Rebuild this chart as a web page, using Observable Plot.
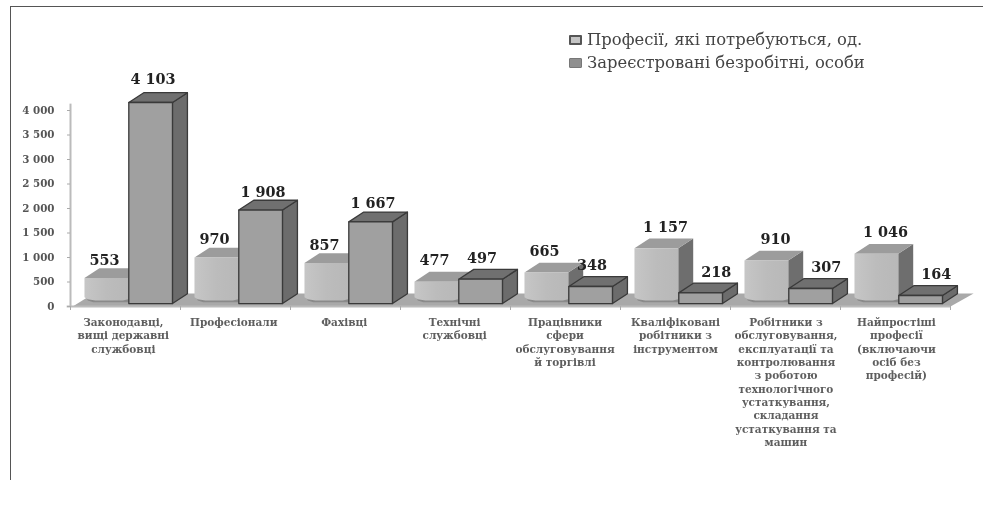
<!DOCTYPE html>
<html lang="uk">
<head>
<meta charset="utf-8">
<script src="https://cdn.jsdelivr.net/npm/d3@7"></script>
<script src="https://cdn.jsdelivr.net/npm/@observablehq/plot@0.6"></script>
<style>
html,body{margin:0;padding:0;background:#fff;width:983px;height:506px;overflow:hidden}
#wrap{position:relative;width:983px;height:506px;filter:blur(.55px)}
#frame{position:absolute;left:10px;top:6px;right:0;height:474px;border-left:1.5px solid #555;border-top:1.5px solid #555;box-sizing:border-box}
#legend{position:absolute;left:569px;top:28px;font:16.4px/23px "DejaVu Serif",serif;color:#444;white-space:nowrap}
#legend div{display:flex;align-items:center;gap:5px}
#legend i{display:inline-block;width:13px;height:10px;box-sizing:border-box;border-radius:1px}
#chart svg{display:block;position:absolute;left:0;top:0;background:transparent}
</style>
</head>
<body>
<div id="wrap">
  <div id="frame"></div>
  <div id="chart"></div>
  <div id="legend">
    <div><i style="background:#c4c4c4;border:2px solid #555"></i><span>Професії, які потребуються, од.</span></div>
    <div><i style="background:#8f8f8f;border:1px solid #777"></i><span>Зареєстровані безробітні, особи</span></div>
  </div>
</div>
<script>
const categories = [
  "Законодавці,\nвищі державні\nслужбовці",
  "Професіонали",
  "Фахівці",
  "Технічні\nслужбовці",
  "Працівники\nсфери\nобслуговування\nй торгівлі",
  "Кваліфіковані\nробітники з\nінструментом",
  "Робітники з\nобслуговування,\nексплуатації та\nконтролювання\nз роботою\nтехнологічного\nустаткування,\nскладання\nустаткування та\nмашин",
  "Найпростіші\nпрофесії\n(включаючи\nосіб без\nпрофесій)"
];
const required = [553, 970, 857, 477, 665, 1157, 910, 1046];
const registered = [4103, 1908, 1667, 497, 348, 218, 307, 164];
const seriesNames = ["Професії, які потребуються, од.", "Зареєстровані безробітні, особи"];
const yTicks = [0, 500, 1000, 1500, 2000, 2500, 3000, 3500, 4000];

const fmt = v => d3.format(",")(v).replace(/,/g, " ");
const dX = 0.136, dY = 200;            // extrusion depth of the 3-D columns, in scale units
const xA = 0.127, xM = 0.525, xB = 0.927;
const liftL = 30, baseL = 120, liftD = 60;

const poly = (id, pts) => pts.map(([x, y]) => ({id, x, y}));
const shape = (rows, o) => Plot.line(rows, {x: "x", y: "y", z: "id", curve: "linear-closed", ...o});

const lSide = [], lTop = [], lFront = [], lShadow = [], dSide = [], dTop = [], dFront = [];
required.forEach((v, i) => {
  const a = i + xA, b = i + xM, t = v + liftL;
  lSide.push(...poly(i, [[b, baseL], [b + dX, baseL + dY], [b + dX, t + dY], [b, t]]));
  lTop.push(...poly(i, [[a, t], [b, t], [b + dX, t + dY], [a + dX, t + dY]]));
  lShadow.push(...poly(i, [[a + .02, baseL + 60], [b, baseL + 60], [b, baseL - 35], [a + .08, baseL - 35], [a + .03, baseL]]));
  lFront.push(...poly(i, [[a, t], [b, t], [b, baseL + 30], [b - .05, baseL + 5], [a + .1, baseL], [a + .03, baseL + 30], [a, baseL + 70]]));
});
registered.forEach((v, i) => {
  const a = i + xM + .005, b = i + xB, t = v + liftD;
  dSide.push(...poly(i, [[b, liftD], [b + dX, liftD + dY], [b + dX, t + dY], [b, t]]));
  dTop.push(...poly(i, [[a, t], [b, t], [b + dX, t + dY], [a + dX, t + dY]]));
  dFront.push(...poly(i, [[a, t], [b, t], [b, liftD], [a, liftD]]));
});
const floor = poly("floor", [[.02, 0], [8, 0], [8.21, 265], [.21, 265]]);

const raise = (v, i) => i >= 3 ? 60 : v > 4000 ? 100 : 0;
const labelsL = required.map((v, i) => ({x: i + (i < 5 ? .31 : .41), y: v + liftL + raise(v, i), t: fmt(v)}));
const labelsD = registered.map((v, i) => ({x: i + (i < 3 ? .75 : i < 5 ? .74 : .87), y: v + liftD + raise(v, i), t: fmt(v)}));
const catRows = categories.map((t, i) => ({x: i + .48 + .004 * i, t}));

const lbl = {x: "x", y: "y", text: "t", dy: -18, fontFamily: "DejaVu Serif", fontWeight: "bold", fontSize: 14.4, fill: "#222"};
const edge = {stroke: "#3a3a3a", strokeWidth: 1.3};

const chart = Plot.plot({
  width: 983, height: 506,
  marginLeft: 70, marginRight: 33, marginTop: 0, marginBottom: 0,
  style: {fontFamily: "DejaVu Serif", background: "transparent"},
  x: {type: "linear", domain: [0, 8], range: [70, 950]},
  y: {type: "linear", domain: [0, 4000], range: [306, 110]},
  marks: [
    shape(floor, {fill: "#a9a9a9"}),
    Plot.ruleY([0], {x1: -0.03, x2: 8, stroke: "#bbb", strokeWidth: 2}),
    Plot.ruleX([0], {y1: 0, y2: 4130, stroke: "#bbb", strokeWidth: 2}),
    Plot.axisY({ticks: yTicks, tickFormat: fmt, tickSize: 3, tickPadding: 13, stroke: "#aaa",
      fontFamily: "DejaVu Serif", fontWeight: "bold", fontSize: 10.3, fill: "#555", label: null, anchor: "left"}),
    Plot.axisX({ticks: d3.range(9), tickFormat: () => "", tickSize: 4, stroke: "#aaa", label: null, anchor: "bottom", y: 0}),
    shape(lSide, {fill: "#6e6e6e"}),
    shape(lTop, {fill: "#9c9c9c"}),
    shape(lShadow, {fill: "#8a8a8a"}),
    shape(lFront, {fill: "url(#lightFront)"}),
    shape(dSide, {fill: "#6c6c6c", ...edge}),
    shape(dTop, {fill: "#707070", ...edge}),
    shape(dFront, {fill: "#a0a0a0", ...edge}),
    Plot.text(labelsL, lbl),
    Plot.text(labelsD, lbl),
    Plot.text(catRows, {x: "x", y: () => 0, text: "t", dy: 10, lineAnchor: "top", lineHeight: 1.27,
      fontFamily: "DejaVu Serif", fontWeight: "bold", fontSize: 10.5, fill: "#5e5e5e"})
  ]
});
const defs = d3.select(chart).insert("defs", ":first-child");
const g = defs.append("linearGradient").attr("id", "lightFront").attr("x1", 0).attr("x2", 1).attr("y1", 0).attr("y2", 0);
[[0, "#c6c6c6"], [.5, "#bcbcbc"], [1, "#b8b8b8"]].forEach(([o, c]) => g.append("stop").attr("offset", o).attr("stop-color", c));
document.getElementById("chart").append(chart);
</script>
</body>
</html>
